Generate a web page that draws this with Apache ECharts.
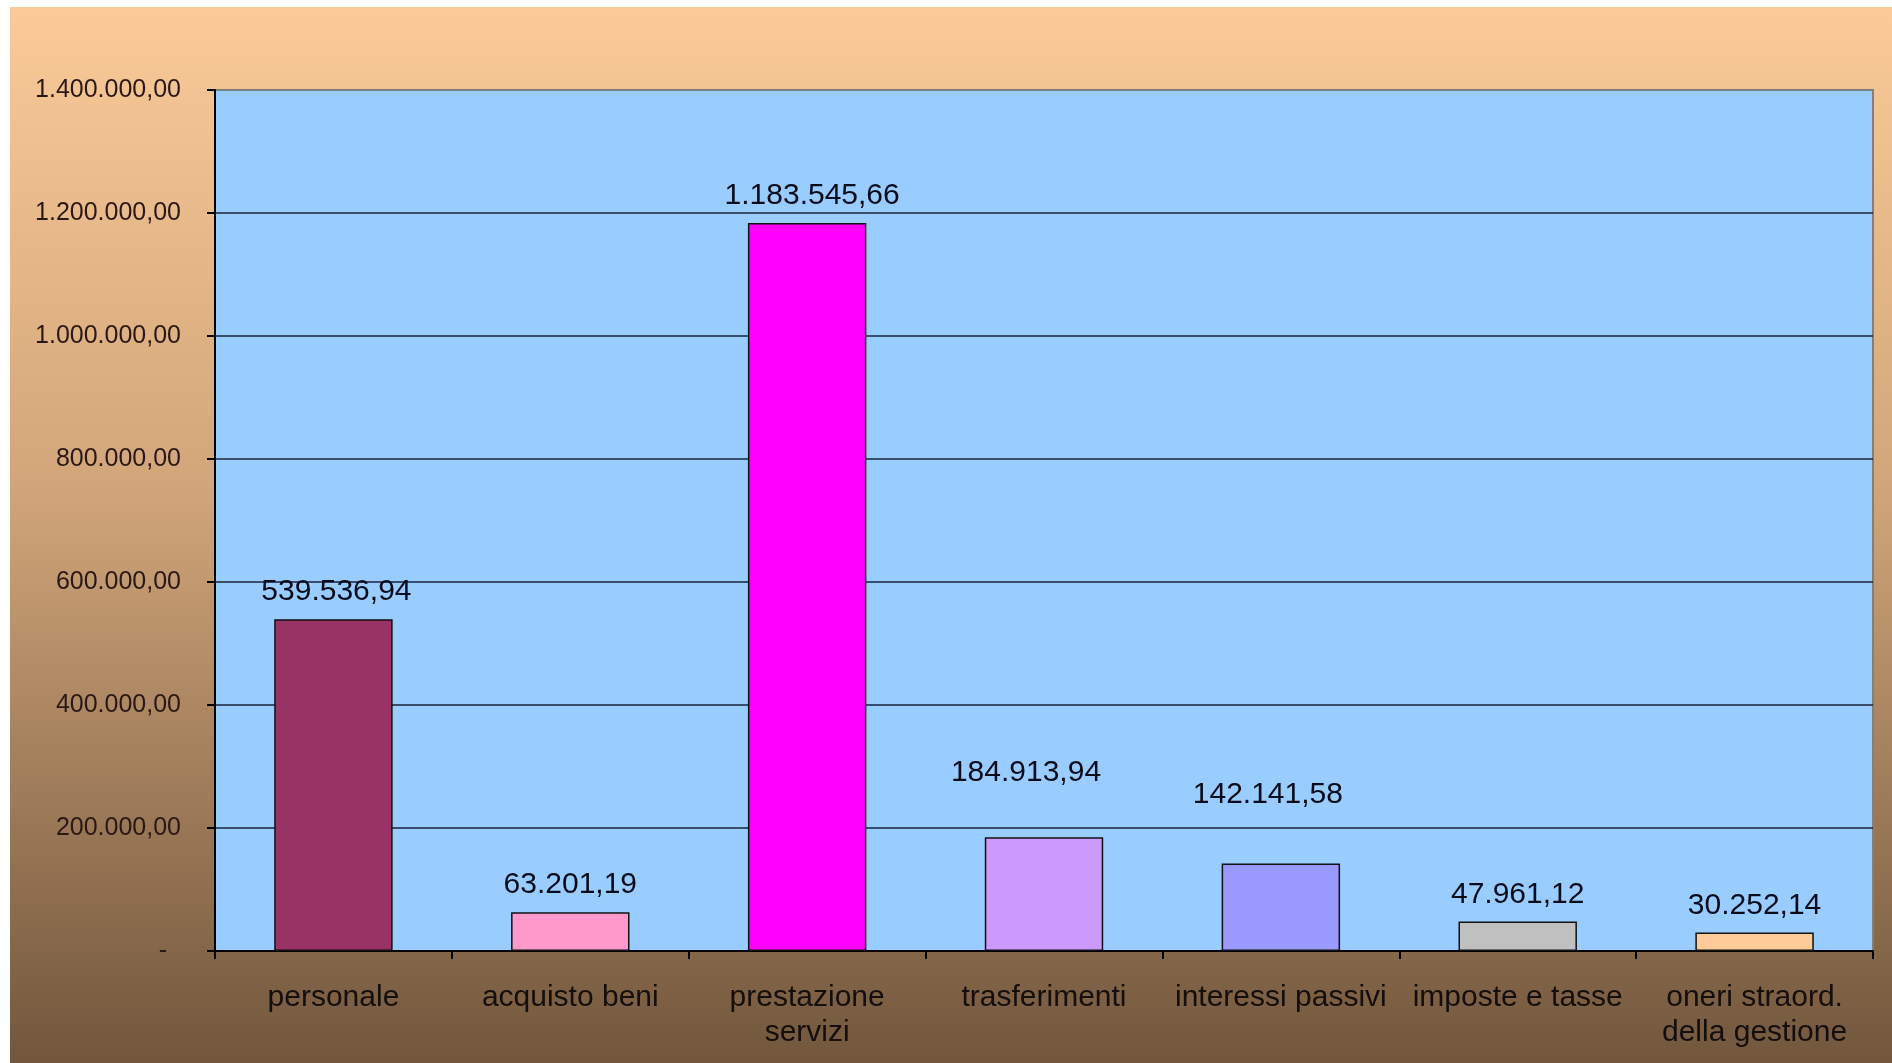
<!DOCTYPE html>
<html>
<head>
<meta charset="utf-8">
<script src="https://cdn.jsdelivr.net/npm/echarts@6/dist/echarts.min.js"></script>
<style>
  html, body { margin: 0; padding: 0; background: #ffffff; }
  #chart { position: absolute; left: 10px; top: 7px; width: 1882px; height: 1056px; }
</style>
</head>
<body>
<div id="chart"></div>
<script>
// ---- data ----
const categories = [
  'personale',
  'acquisto beni',
  'prestazione\nservizi',
  'trasferimenti',
  'interessi passivi',
  'imposte e tasse',
  'oneri straord.\ndella gestione'
];
const values = [539536.94, 63201.19, 1183545.66, 184913.94, 142141.58, 47961.12, 30252.14];
const yTicks = [0, 200000, 400000, 600000, 800000, 1000000, 1200000, 1400000];

// ---- styles ----
const barColors = ['#993366', '#FF99CC', '#FF00FF', '#CC99FF', '#9999FF', '#C0C0C0', '#FFCC99'];
const labelOffsets = [[3, 0], [0, 0], [5, 0], [-18, -38], [-13, -42], [0, 0], [0, 0]];

function itNum(v) {
  const parts = v.toFixed(2).split('.');
  const intPart = parts[0].replace(/\B(?=(\d{3})+(?!\d))/g, '.');
  return intPart + ',' + parts[1];
}

const chart = echarts.init(document.getElementById('chart'));
const font = '"Liberation Sans", Arial, sans-serif';

chart.setOption({
  backgroundColor: new echarts.graphic.LinearGradient(0, 0, 0, 1, [
    { offset: 0, color: '#FACA98' },
    { offset: 0.45, color: '#D2A67A' },
    { offset: 1, color: '#72573D' }
  ]),
  animation: false,
  grid: {
    left: 205, top: 83, right: 19, bottom: 112,
    show: true,
    backgroundColor: '#99CCFF',
    borderColor: '#808080',
    borderWidth: 2
  },
  xAxis: {
    type: 'category',
    data: categories,
    boundaryGap: true,
    axisLine: { show: true, lineStyle: { color: '#000000', width: 2 } },
    axisTick: { show: true, inside: false, length: 8, alignWithLabel: false, lineStyle: { color: '#000000', width: 2 } },
    axisLabel: {
      interval: 0,
      margin: 29,
      fontFamily: font,
      fontSize: 30,
      lineHeight: 35,
      color: '#140e0c'
    }
  },
  yAxis: {
    type: 'value',
    min: yTicks[0],
    max: yTicks[yTicks.length - 1],
    interval: yTicks[1] - yTicks[0],
    axisLine: { show: true, lineStyle: { color: '#000000', width: 2 } },
    axisTick: { show: true, inside: false, length: 8, lineStyle: { color: '#000000', width: 2 } },
    splitLine: { show: true, showMaxLine: false, lineStyle: { color: '#18223e', width: 1.6 } },
    axisLabel: {
      margin: 34,
      fontFamily: font,
      fontSize: 25,
      color: '#2a1816',
      formatter: function (v) { return v === 0 ? '-  ' : itNum(v); }
    }
  },
  series: [{
    type: 'bar',
    barWidth: '50%',
    data: values.map(function (v, i) {
      return {
        value: v,
        itemStyle: { color: barColors[i] },
        label: { offset: labelOffsets[i] }
      };
    }),
    itemStyle: { borderColor: '#111111', borderWidth: 1.5 },
    label: {
      show: true,
      position: 'top',
      distance: 12,
      fontFamily: font,
      fontSize: 30,
      color: '#080c1a',
      formatter: function (p) { return itNum(p.value); }
    }
  }]
});
</script>
</body>
</html>
